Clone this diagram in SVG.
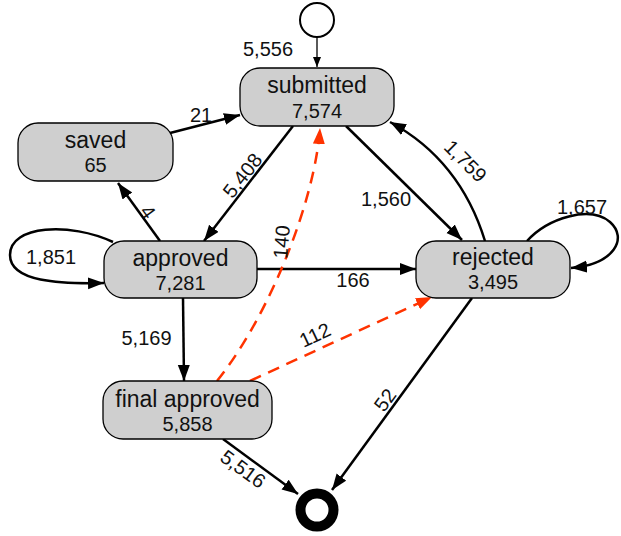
<svg xmlns="http://www.w3.org/2000/svg" width="621" height="536" viewBox="0 0 621 536">
  <defs>
    <marker id="arrow" markerUnits="userSpaceOnUse" markerWidth="17" markerHeight="13" refX="16" refY="6" orient="auto">
      <path d="M0,0 L16,6 L0,12 z" fill="#000"/>
    </marker>
    <marker id="arrow-red" markerUnits="userSpaceOnUse" markerWidth="17" markerHeight="13" refX="16" refY="6" orient="auto">
      <path d="M0,0 L16,6 L0,12 z" fill="#ff3300"/>
    </marker>
    <marker id="arrow-small" markerUnits="userSpaceOnUse" markerWidth="11" markerHeight="9" refX="10" refY="4" orient="auto">
      <path d="M0,0 L10,4 L0,8 z" fill="#000"/>
    </marker>
  </defs>
  <style>
    .node rect { fill: #cfcfcf; stroke: #000; stroke-width: 1.3; }
    text { font-family: "Liberation Sans", Arial, Helvetica, sans-serif; fill: #111; text-anchor: middle; }
    .name { font-size: 23px; }
    .count { font-size: 20px; }
    .label { font-size: 20px; }
    .edge { fill: none; stroke: #000; stroke-width: 2.5; marker-end: url(#arrow); }
    .edge.thin { stroke-width: 1.3; marker-end: url(#arrow-small); }
    .edge.red { stroke: #ff3300; stroke-dasharray: 12 8; marker-end: url(#arrow-red); }
  </style>

  <!-- connectors -->
  <g id="edges">
    <path class="edge thin" d="M317,37 L317,67"/>
    <path class="edge" d="M170,133 L240,115"/>
    <path class="edge" d="M293,126 L204,241"/>
    <path class="edge" d="M160,241 L118,183"/>
    <path class="edge" d="M113,242 C70,222 10,225 10,255 C10,282 60,284 104,283"/>
    <path class="edge" d="M257,269 L416,269"/>
    <path class="edge" d="M346,126 L462,240"/>
    <path class="edge" d="M485,241 Q460,160 390,122"/>
    <path class="edge" d="M527,241 C548,218 590,205 610,222 C628,238 615,264 571,268"/>
    <path class="edge" d="M183,298 L184,381"/>
    <path class="edge red" d="M217,381 C270,315 315,200 320,128"/>
    <path class="edge red" d="M250,381 L432,297"/>
    <path class="edge" d="M472,298 L332,490"/>
    <path class="edge" d="M223,439 L298,494"/>

    <text class="label" x="268" y="56">5,556</text>
    <text class="label" x="201" y="122">21</text>
    <text class="label" transform="translate(242.5,175.5) rotate(-52)" y="7">5,408</text>
    <text class="label" transform="translate(148,212) rotate(54)" y="7">4</text>
    <text class="label" x="51" y="264">1,851</text>
    <text class="label" x="353" y="287">166</text>
    <text class="label" x="386" y="206">1,560</text>
    <text class="label" transform="translate(465.5,161) rotate(45)" y="7">1,759</text>
    <text class="label" x="582" y="214">1,657</text>
    <text class="label" x="146.5" y="345">5,169</text>
    <text class="label" transform="translate(281.5,242) rotate(-85)" y="7">140</text>
    <text class="label" transform="translate(315,335) rotate(-25)" y="7">112</text>
    <text class="label" transform="translate(385,400) rotate(-54)" y="7">52</text>
    <text class="label" transform="translate(243,469) rotate(36)" y="7">5,516</text>
  </g>

  <!-- start and end events -->
  <g id="start">
    <circle cx="317" cy="20" r="17" fill="#fff" stroke="#000" stroke-width="2"/>
  </g>
  <g id="end">
    <circle cx="317" cy="510" r="16.5" fill="#fff" stroke="#000" stroke-width="10"/>
  </g>

  <!-- activities -->
  <g id="submitted" class="node">
    <rect x="240" y="68" width="154" height="58" rx="20"/>
    <text class="name" x="317" y="93">submitted</text>
    <text class="count" x="317" y="118">7,574</text>
  </g>
  <g id="saved" class="node">
    <rect x="18" y="123" width="155" height="58" rx="20"/>
    <text class="name" x="95.5" y="147.5">saved</text>
    <text class="count" x="95.5" y="172">65</text>
  </g>
  <g id="approved" class="node">
    <rect x="104" y="241" width="153" height="57" rx="20"/>
    <text class="name" x="180.5" y="266">approved</text>
    <text class="count" x="180.5" y="290">7,281</text>
  </g>
  <g id="rejected" class="node">
    <rect x="416" y="241" width="154" height="57" rx="20"/>
    <text class="name" x="493" y="265">rejected</text>
    <text class="count" x="493" y="289">3,495</text>
  </g>
  <g id="final-approved" class="node">
    <rect x="103" y="381" width="169" height="58" rx="20"/>
    <text class="name" x="187.5" y="407">final approved</text>
    <text class="count" x="187.5" y="431">5,858</text>
  </g>
</svg>
